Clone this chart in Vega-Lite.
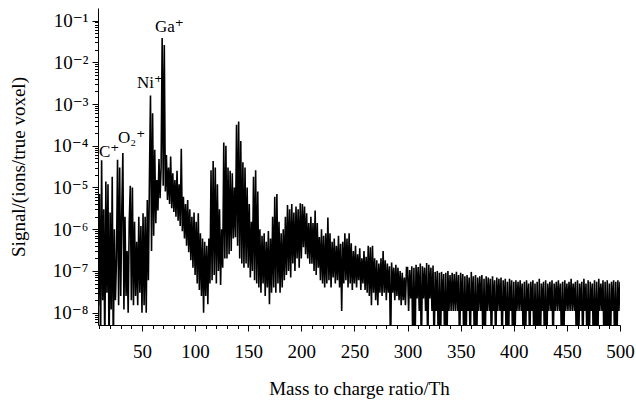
{
"$schema": "https://vega.github.io/schema/vega-lite/v6.json",
"width": 522, "height": 317,
"autosize": "none",
"padding": {"left": 98, "top": 8, "right": 16, "bottom": 77},
"background": "white",
"config": {
  "view": {"stroke": null},
  "axis": {"domainColor": "#000", "tickColor": "#000", "labelColor": "#000", "titleColor": "#000", "labelFont": "Liberation Serif, DejaVu Serif", "titleFont": "Liberation Serif, DejaVu Serif", "labelFontSize": 19, "titleFontSize": 19, "titleFontWeight": "normal", "grid": false, "domainWidth": 1, "tickWidth": 1}
},
"datasets": {
"spec": [
{"m":9,"s":1.5e-8},{"m":10,"s":7e-6},{"m":11,"s":1e-9},{"m":12,"s":4.5e-5},{"m":13,"s":2e-8},{"m":14,"s":3e-6},{"m":15,"s":1e-9},{"m":16,"s":1.4e-5},{"m":17,"s":3e-8},{"m":18,"s":1.2e-5},{"m":19,"s":1e-9},{"m":20,"s":2.5e-6},{"m":21,"s":1.2e-8},{"m":22,"s":1.8e-5},{"m":23,"s":1e-9},{"m":24,"s":1e-6},{"m":25,"s":2e-8},{"m":26,"s":2e-7},{"m":27,"s":4.6e-5},{"m":28,"s":1.5e-8},{"m":29,"s":3e-5},{"m":30,"s":2.5e-8},{"m":31,"s":3e-6},{"m":32,"s":6.7e-5},{"m":33,"s":1.2e-8},{"m":34,"s":2e-6},{"m":35,"s":2.5e-8},{"m":36,"s":3e-7},{"m":37,"s":1e-8},{"m":38,"s":1.5e-6},{"m":39,"s":1.1e-5},{"m":40,"s":2e-8},{"m":41,"s":1e-5},{"m":42,"s":1.5e-8},{"m":43,"s":1.5e-6},{"m":44,"s":2.5e-8},{"m":45,"s":5e-7},{"m":46,"s":1.5e-8},{"m":47,"s":2e-6},{"m":48,"s":3e-8},{"m":49,"s":1.2e-6},{"m":50,"s":1e-8},
{"m":51,"s":2.4e-6},{"m":52,"s":1.5e-8},{"m":53,"s":2e-6},{"m":54,"s":1e-8},{"m":55,"s":5e-6},{"m":56,"s":6e-8},{"m":57,"s":1.5e-5},{"m":58,"s":1.6e-3},{"m":59,"s":3e-7},{"m":60,"s":6e-4},{"m":61,"s":7e-7},{"m":62,"s":8e-5},{"m":63,"s":1.4e-6},{"m":64,"s":1.5e-5},{"m":65,"s":2.8e-6},{"m":66,"s":4.8e-5},{"m":67,"s":5.5e-6},{"m":68,"s":3e-5},{"m":69,"s":0.038},{"m":70,"s":1.1e-5},{"m":71,"s":0.026},{"m":72,"s":8e-6},{"m":73,"s":6e-5},{"m":74,"s":5e-6},{"m":75,"s":3e-5},{"m":76,"s":4e-6},{"m":77,"s":5.5e-5},{"m":78,"s":3.2e-6},{"m":79,"s":2.2e-5},{"m":80,"s":2.6e-6},{"m":81,"s":1.5e-5},{"m":82,"s":2e-6},{"m":83,"s":2.5e-5},{"m":84,"s":1.6e-6},{"m":85,"s":1.2e-5},{"m":86,"s":1.2e-6},{"m":87,"s":8.5e-5},{"m":88,"s":9e-7},{"m":89,"s":6e-6},{"m":90,"s":6e-7},{"m":91,"s":4e-6},{"m":92,"s":4e-7},{"m":93,"s":5e-6},{"m":94,"s":2.8e-7},{"m":95,"s":3e-6},{"m":96,"s":1.8e-7},{"m":97,"s":2e-6},{"m":98,"s":1.2e-7},{"m":99,"s":2.5e-6},{"m":100,"s":8e-8},
{"m":101,"s":1.5e-6},{"m":102,"s":5e-8},{"m":103,"s":2.4e-6},{"m":104,"s":3.5e-8},{"m":105,"s":8e-7},{"m":106,"s":2.5e-8},{"m":107,"s":6e-7},{"m":108,"s":1e-8},{"m":109,"s":5e-7},{"m":110,"s":2.5e-8},{"m":111,"s":4e-7},{"m":112,"s":1.6e-8},{"m":113,"s":6e-7},{"m":114,"s":5e-8},{"m":115,"s":2.6e-5},{"m":116,"s":6e-8},{"m":117,"s":4.3e-5},{"m":118,"s":8e-8},{"m":119,"s":3e-5},{"m":120,"s":5e-8},{"m":121,"s":1.2e-5},{"m":122,"s":1e-7},{"m":123,"s":3e-6},{"m":124,"s":4.6e-8},{"m":125,"s":1e-6},{"m":126,"s":1.2e-7},{"m":127,"s":1.2e-4},{"m":128,"s":2e-7},{"m":129,"s":1e-4},{"m":130,"s":2e-7},{"m":131,"s":3e-5},{"m":132,"s":2.5e-7},{"m":133,"s":2.5e-5},{"m":134,"s":3e-7},{"m":135,"s":2.2e-5},{"m":136,"s":6e-7},{"m":137,"s":1e-5},{"m":138,"s":6.4e-7},{"m":139,"s":3.2e-4},{"m":140,"s":4e-7},{"m":141,"s":3.8e-4},{"m":142,"s":2e-7},{"m":143,"s":1.3e-4},{"m":144,"s":1.5e-7},{"m":145,"s":4e-5},{"m":146,"s":1.2e-7},{"m":147,"s":3e-5},{"m":148,"s":1.5e-7},{"m":149,"s":1e-5},{"m":150,"s":1.2e-7},
{"m":151,"s":4e-6},{"m":152,"s":7e-8},{"m":153,"s":1.5e-6},{"m":154,"s":1e-7},{"m":155,"s":1.8e-5},{"m":156,"s":6e-8},{"m":157,"s":2.6e-5},{"m":158,"s":5e-8},{"m":159,"s":8e-6},{"m":160,"s":4e-8},{"m":161,"s":1e-6},{"m":162,"s":3e-8},{"m":163,"s":7e-7},{"m":164,"s":5e-8},{"m":165,"s":8e-7},{"m":166,"s":2.5e-8},{"m":167,"s":5e-7},{"m":168,"s":4e-8},{"m":169,"s":9e-7},{"m":170,"s":1.6e-8},{"m":171,"s":6e-7},{"m":172,"s":3e-8},{"m":173,"s":2e-6},{"m":174,"s":4e-8},{"m":175,"s":6e-6},{"m":176,"s":3e-8},{"m":177,"s":7e-6},{"m":178,"s":5e-8},{"m":179,"s":1.5e-6},{"m":180,"s":3e-8},{"m":181,"s":8e-7},{"m":182,"s":4e-8},{"m":183,"s":1e-6},{"m":184,"s":6e-8},{"m":185,"s":2e-6},{"m":186,"s":8e-8},{"m":187,"s":3.8e-6},{"m":188,"s":1e-7},{"m":189,"s":3e-6},{"m":190,"s":7e-8},{"m":191,"s":4e-6},{"m":192,"s":1.5e-7},{"m":193,"s":2.5e-6},{"m":194,"s":1e-7},{"m":195,"s":3.5e-6},{"m":196,"s":2e-7},{"m":197,"s":3e-6},{"m":198,"s":1.2e-7},{"m":199,"s":4.2e-6},{"m":200,"s":2e-7},
{"m":201,"s":4e-6},{"m":202,"s":3.7e-7},{"m":203,"s":3.5e-6},{"m":204,"s":2.5e-7},{"m":205,"s":2.4e-6},{"m":206,"s":2e-7},{"m":207,"s":1.4e-6},{"m":208,"s":1.5e-7},{"m":209,"s":2e-6},{"m":210,"s":1.5e-7},{"m":211,"s":1.4e-6},{"m":212,"s":1e-7},{"m":213,"s":2.8e-6},{"m":214,"s":8e-8},{"m":215,"s":1.4e-6},{"m":216,"s":1.2e-7},{"m":217,"s":6.5e-7},{"m":218,"s":6e-8},{"m":219,"s":1e-6},{"m":220,"s":5e-8},{"m":221,"s":7e-7},{"m":222,"s":4e-8},{"m":223,"s":8e-7},{"m":224,"s":5e-8},{"m":225,"s":1.9e-6},{"m":226,"s":6e-8},{"m":227,"s":8e-7},{"m":228,"s":4e-8},{"m":229,"s":5e-7},{"m":230,"s":7e-8},{"m":231,"s":6e-7},{"m":232,"s":5e-8},{"m":233,"s":4e-7},{"m":234,"s":6e-8},{"m":235,"s":7e-7},{"m":236,"s":4e-8},{"m":237,"s":4.5e-7},{"m":238,"s":1.1e-8},{"m":239,"s":5e-7},{"m":240,"s":5e-8},{"m":241,"s":8e-7},{"m":242,"s":6e-8},{"m":243,"s":6e-7},{"m":244,"s":4e-8},{"m":245,"s":8e-7},{"m":246,"s":5e-8},{"m":247,"s":4.6e-7},{"m":248,"s":3.5e-8},{"m":249,"s":3e-7},{"m":250,"s":5e-8},
{"m":251,"s":4e-7},{"m":252,"s":4e-8},{"m":253,"s":2.5e-7},{"m":254,"s":6e-8},{"m":255,"s":3.5e-7},{"m":256,"s":3.5e-8},{"m":257,"s":2e-7},{"m":258,"s":5e-8},{"m":259,"s":3e-7},{"m":260,"s":3.5e-8},{"m":261,"s":2.2e-7},{"m":262,"s":3e-8},{"m":263,"s":4e-7},{"m":264,"s":2.5e-8},{"m":265,"s":3.7e-7},{"m":266,"s":1.5e-8},{"m":267,"s":4e-7},{"m":268,"s":3e-8},{"m":269,"s":2e-7},{"m":270,"s":2e-8},{"m":271,"s":1.8e-7},{"m":272,"s":1.5e-8},{"m":273,"s":1.5e-7},{"m":274,"s":3e-8},{"m":275,"s":2e-7},{"m":276,"s":2.5e-8},{"m":277,"s":3e-7},{"m":278,"s":3e-8},{"m":279,"s":1.8e-7},{"m":280,"s":2e-8},{"m":281,"s":1.5e-7},{"m":282,"s":3e-8},{"m":283,"s":1.3e-7},{"m":284,"s":1e-9},{"m":285,"s":1.6e-7},{"m":286,"s":3e-8},{"m":287,"s":1.2e-7},{"m":288,"s":2e-8},{"m":289,"s":1.4e-7},{"m":290,"s":2.5e-8},{"m":291,"s":1.2e-7},{"m":292,"s":2e-8},{"m":293,"s":1e-7},{"m":294,"s":1.5e-8},{"m":295,"s":9e-8},{"m":296,"s":2e-8},{"m":297,"s":7e-8},{"m":298,"s":1.5e-8},{"m":299,"s":1.2e-7},
{"m":300,"s":1.2e-7},{"m":301,"s":1.1e-8},{"m":302,"s":1.05e-7},{"m":303,"s":2.2e-8},{"m":304,"s":1.3e-7},{"m":305,"s":1e-9},{"m":306,"s":1.2e-7},{"m":307,"s":1e-9},{"m":308,"s":1.4e-7},{"m":309,"s":2.2e-8},{"m":310,"s":1.25e-7},{"m":311,"s":1.1e-8},{"m":312,"s":1.5e-7},{"m":313,"s":1e-9},{"m":314,"s":1.3e-7},{"m":315,"s":2.2e-8},{"m":316,"s":1.2e-7},{"m":317,"s":1.1e-8},{"m":318,"s":1.55e-7},{"m":319,"s":1e-9},{"m":320,"s":1.4e-7},{"m":321,"s":2.2e-8},{"m":322,"s":1.2e-7},{"m":323,"s":1.1e-8},{"m":324,"s":1.35e-7},{"m":325,"s":1e-9},{"m":326,"s":9.5e-8},{"m":327,"s":1.1e-8},{"m":328,"s":1e-7},{"m":329,"s":1e-9},{"m":330,"s":9e-8},{"m":331,"s":1e-9},{"m":332,"s":9.5e-8},{"m":333,"s":1.1e-8},{"m":334,"s":8.5e-8},{"m":335,"s":1e-9},{"m":336,"s":9e-8},{"m":337,"s":1e-9},{"m":338,"s":1e-7},{"m":339,"s":1.1e-8},{"m":340,"s":8e-8},{"m":341,"s":1.1e-8},{"m":342,"s":9e-8},{"m":343,"s":1.1e-8},{"m":344,"s":8.5e-8},{"m":345,"s":1.1e-8},{"m":346,"s":9.5e-8},{"m":347,"s":1.1e-8},{"m":348,"s":8e-8},{"m":349,"s":1e-9},
{"m":350,"s":9e-8},{"m":351,"s":1.1e-8},{"m":352,"s":8.5e-8},{"m":353,"s":1e-9},{"m":354,"s":7.5e-8},{"m":355,"s":1e-9},{"m":356,"s":8e-8},{"m":357,"s":1.1e-8},{"m":358,"s":7e-8},{"m":359,"s":1e-9},{"m":360,"s":9.5e-8},{"m":361,"s":1.1e-8},{"m":362,"s":7.5e-8},{"m":363,"s":1e-9},{"m":364,"s":8e-8},{"m":365,"s":1e-9},{"m":366,"s":7e-8},{"m":367,"s":1.1e-8},{"m":368,"s":7.5e-8},{"m":369,"s":1.1e-8},{"m":370,"s":8e-8},{"m":371,"s":1e-9},{"m":372,"s":6.5e-8},{"m":373,"s":1e-9},{"m":374,"s":7.5e-8},{"m":375,"s":1.1e-8},{"m":376,"s":7e-8},{"m":377,"s":1.1e-8},{"m":378,"s":6.5e-8},{"m":379,"s":1e-9},{"m":380,"s":7.5e-8},{"m":381,"s":1.1e-8},{"m":382,"s":6e-8},{"m":383,"s":1e-9},{"m":384,"s":7e-8},{"m":385,"s":1.1e-8},{"m":386,"s":6.5e-8},{"m":387,"s":1.1e-8},{"m":388,"s":7e-8},{"m":389,"s":1e-9},{"m":390,"s":6e-8},{"m":391,"s":1.1e-8},{"m":392,"s":6.5e-8},{"m":393,"s":1e-9},{"m":394,"s":5.5e-8},{"m":395,"s":1e-9},{"m":396,"s":6.5e-8},{"m":397,"s":1.1e-8},{"m":398,"s":6e-8},{"m":399,"s":1e-9},
{"m":400,"s":5.5e-8},{"m":401,"s":1e-9},{"m":402,"s":6e-8},{"m":403,"s":1.1e-8},{"m":404,"s":5.5e-8},{"m":405,"s":1.1e-8},{"m":406,"s":6e-8},{"m":407,"s":1.1e-8},{"m":408,"s":5e-8},{"m":409,"s":1e-9},{"m":410,"s":5.5e-8},{"m":411,"s":1e-9},{"m":412,"s":6e-8},{"m":413,"s":1.1e-8},{"m":414,"s":5e-8},{"m":415,"s":1e-9},{"m":416,"s":5.5e-8},{"m":417,"s":1.1e-8},{"m":418,"s":6e-8},{"m":419,"s":1e-9},{"m":420,"s":5e-8},{"m":421,"s":1e-9},{"m":422,"s":5.5e-8},{"m":423,"s":1e-9},{"m":424,"s":6.5e-8},{"m":425,"s":1e-9},{"m":426,"s":5e-8},{"m":427,"s":1.1e-8},{"m":428,"s":5.5e-8},{"m":429,"s":1e-9},{"m":430,"s":6e-8},{"m":431,"s":1e-9},{"m":432,"s":5e-8},{"m":433,"s":1.1e-8},{"m":434,"s":5.5e-8},{"m":435,"s":1.1e-8},{"m":436,"s":6e-8},{"m":437,"s":1e-9},{"m":438,"s":5e-8},{"m":439,"s":1.1e-8},{"m":440,"s":5.5e-8},{"m":441,"s":1.1e-8},{"m":442,"s":6e-8},{"m":443,"s":1.1e-8},{"m":444,"s":5e-8},{"m":445,"s":1e-9},{"m":446,"s":5.5e-8},{"m":447,"s":1e-9},{"m":448,"s":6e-8},{"m":449,"s":1.1e-8},
{"m":450,"s":5e-8},{"m":451,"s":1.1e-8},{"m":452,"s":5.5e-8},{"m":453,"s":1.1e-8},{"m":454,"s":6.5e-8},{"m":455,"s":1.1e-8},{"m":456,"s":5e-8},{"m":457,"s":1.1e-8},{"m":458,"s":5.5e-8},{"m":459,"s":1e-9},{"m":460,"s":6e-8},{"m":461,"s":1e-9},{"m":462,"s":5e-8},{"m":463,"s":1.1e-8},{"m":464,"s":5.5e-8},{"m":465,"s":1e-9},{"m":466,"s":6.5e-8},{"m":467,"s":1.1e-8},{"m":468,"s":5e-8},{"m":469,"s":1e-9},{"m":470,"s":6e-8},{"m":471,"s":1e-9},{"m":472,"s":5.5e-8},{"m":473,"s":1.1e-8},{"m":474,"s":5e-8},{"m":475,"s":1e-9},{"m":476,"s":6e-8},{"m":477,"s":1e-9},{"m":478,"s":5.5e-8},{"m":479,"s":1e-9},{"m":480,"s":6.5e-8},{"m":481,"s":1.1e-8},{"m":482,"s":5e-8},{"m":483,"s":1.1e-8},{"m":484,"s":6e-8},{"m":485,"s":1e-9},{"m":486,"s":5.5e-8},{"m":487,"s":1e-9},{"m":488,"s":6e-8},{"m":489,"s":1e-9},{"m":490,"s":5e-8},{"m":491,"s":1e-9},{"m":492,"s":5.5e-8},{"m":493,"s":1.1e-8},{"m":494,"s":6e-8},{"m":495,"s":1e-9},{"m":496,"s":5.5e-8},{"m":497,"s":1e-9},{"m":498,"s":6e-8},{"m":499,"s":1.1e-8},{"m":500,"s":5.5e-8}
],
"labels": [
{"m":9.5,"s":5.4e-5,"t":"C⁺"},
{"m":27.4,"s":1.17e-4,"t":"O₂⁺"},
{"m":45.3,"s":2.43e-3,"t":"Ni⁺"},
{"m":62.3,"s":0.0536,"t":"Ga⁺"}
]
},
"resolve": {"axis": {"x": "independent", "y": "independent"}},
"layer": [
{
  "data": {"name": "spec"},
  "mark": {"type": "line", "stroke": "#000", "strokeWidth": 1.6, "clip": true, "strokeJoin": "miter", "strokeMiterLimit": 2},
  "encoding": {
    "x": {"field": "m", "type": "quantitative", "scale": {"domain": [8.6, 500], "nice": false, "zero": false},
      "axis": {"orient": "bottom", "title": "Mass to charge ratio/Th", "values": [50,100,150,200,250,300,350,400,450,500],
        "format": "d", "tickSize": 6,
        "labelBaseline": "alphabetic", "labelPadding": 26, "labelFlush": false, "labelOverlap": false,
        "titleBaseline": "alphabetic", "titleY": 69}},
    "y": {"field": "s", "type": "quantitative", "scale": {"type": "log", "domain": [5.07e-9, 0.2], "nice": false},
      "axis": {"orient": "left", "title": "Signal/(ions/true voxel)",
        "values": [1e-8,1e-7,1e-6,1e-5,1e-4,0.001,0.01,0.1],
        "labelExpr": "datum.value < 5e-8 ? '10⁻⁸' : datum.value < 5e-7 ? '10⁻⁷' : datum.value < 5e-6 ? '10⁻⁶' : datum.value < 5e-5 ? '10⁻⁵' : datum.value < 5e-4 ? '10⁻⁴' : datum.value < 5e-3 ? '10⁻³' : datum.value < 5e-2 ? '10⁻²' : '10⁻¹'",
        "tickSize": 6, "labelPadding": 4, "labelOverlap": false, "labelFlush": false,
        "titleX": -80, "titleBaseline": "middle"}}
  }
},
{
  "data": {"name": "labels"},
  "mark": {"type": "text", "align": "left", "baseline": "alphabetic", "fontSize": 17, "font": "Liberation Serif, DejaVu Serif", "color": "#000"},
  "encoding": {
    "x": {"field": "m", "type": "quantitative",
      "axis": {"orient": "bottom", "title": null, "labels": false, "domain": false, "tickSize": 3.5,
        "values": [10,20,30,40,60,70,80,90,110,120,130,140,160,170,180,190,210,220,230,240,260,270,280,290,310,320,330,340,360,370,380,390,410,420,430,440,460,470,480,490]}},
    "y": {"field": "s", "type": "quantitative",
      "axis": {"orient": "left", "title": null, "labels": false, "domain": false, "tickSize": 3.5,
        "values": [6e-9,7e-9,8e-9,9e-9,2e-8,3e-8,4e-8,5e-8,6e-8,7e-8,8e-8,9e-8,2e-7,3e-7,4e-7,5e-7,6e-7,7e-7,8e-7,9e-7,2e-6,3e-6,4e-6,5e-6,6e-6,7e-6,8e-6,9e-6,2e-5,3e-5,4e-5,5e-5,6e-5,7e-5,8e-5,9e-5,2e-4,3e-4,4e-4,5e-4,6e-4,7e-4,8e-4,9e-4,0.002,0.003,0.004,0.005,0.006,0.007,0.008,0.009,0.02,0.03,0.04,0.05,0.06,0.07,0.08,0.09]}},
    "text": {"field": "t"}
  }
}
]
}
